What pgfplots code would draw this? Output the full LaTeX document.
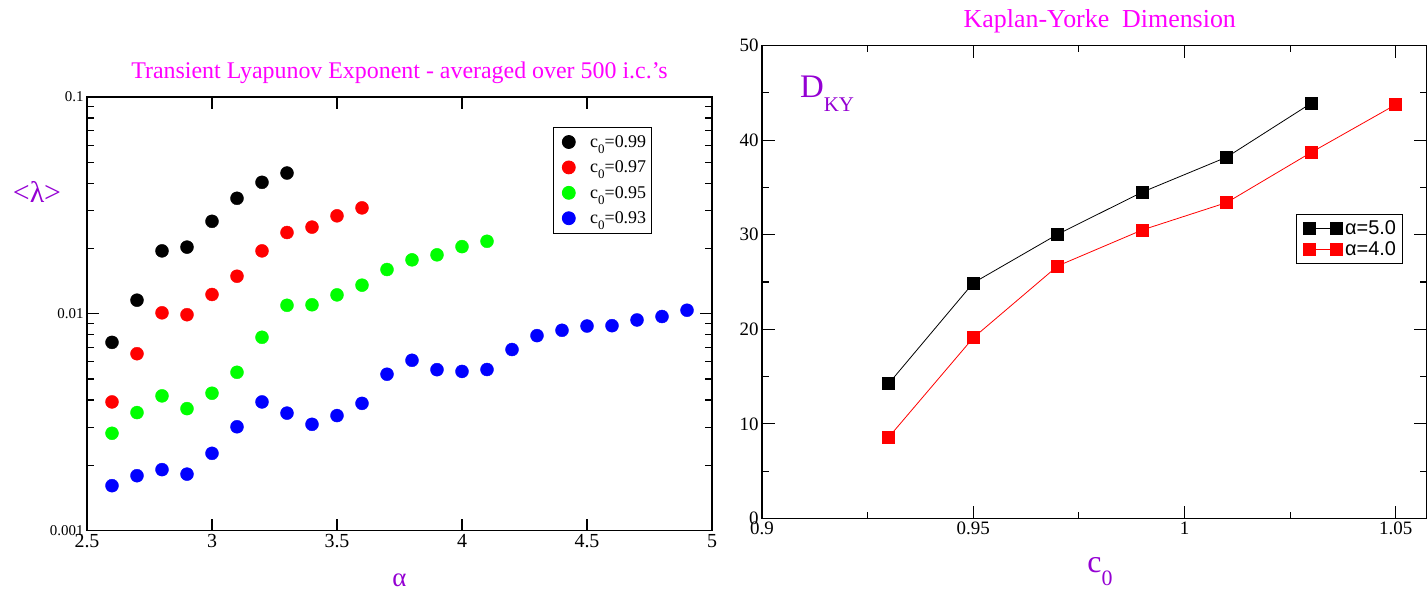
\documentclass[border=0pt]{standalone}
\usepackage{pgfplots}
\pgfplotsset{compat=1.18}
\usepackage{fontspec}
\setmainfont{Liberation Serif}
\newfontfamily\legendsans{Liberation Sans}
\definecolor{titlemag}{RGB}{255,0,255}
\definecolor{labviolet}{RGB}{148,0,211}
\definecolor{grn}{RGB}{0,255,0}
\definecolor{blu}{RGB}{0,0,255}
\definecolor{rd}{RGB}{255,0,0}
\newcommand{\fs}[1]{\fontsize{#1}{#1}\selectfont}
\newcommand{\lsub}[1]{\raisebox{-6bp}{\fs{13}#1}}

% transient Lyapunov exponent, one table per c_0
\pgfplotstableread{
a lam
2.6 0.00738
2.7 0.01155
2.8 0.0195
2.9 0.0203
3.0 0.0267
3.1 0.0341
3.2 0.0404
3.3 0.0446
}\cnineninetynine
\pgfplotstableread{
a lam
2.6 0.00392
2.7 0.00654
2.8 0.0101
2.9 0.0099
3.0 0.01227
3.1 0.0149
3.2 0.0195
3.3 0.0237
3.4 0.0251
3.5 0.0283
3.6 0.0308
}\cnineninetyseven
\pgfplotstableread{
a lam
2.6 0.00281
2.7 0.00350
2.8 0.00418
2.9 0.00365
3.0 0.00430
3.1 0.00537
3.2 0.00779
3.3 0.01094
3.4 0.0110
3.5 0.01222
3.6 0.01355
3.7 0.0160
3.8 0.01773
3.9 0.0187
4.0 0.0204
4.1 0.0216
}\cninetyfive
\pgfplotstableread{
a lam
2.6 0.00161
2.7 0.00179
2.8 0.00191
2.9 0.00182
3.0 0.00227
3.1 0.00301
3.2 0.00392
3.3 0.00348
3.4 0.00309
3.5 0.00339
3.6 0.00386
3.7 0.00526
3.8 0.00610
3.9 0.00552
4.0 0.00542
4.1 0.00553
4.2 0.00684
4.3 0.00793
4.4 0.00839
4.5 0.00878
4.6 0.00881
4.7 0.00936
4.8 0.00971
4.9 0.01038
}\cninetythree

% Kaplan-Yorke dimension versus c_0
\pgfplotstableread{
c d
0.93 14.27
0.95 24.9
0.97 30.05
0.99 34.5
1.01 38.2
1.03 43.9
}\alphafive
\pgfplotstableread{
c d
0.93 8.6
0.95 19.1
0.97 26.7
0.99 30.5
1.01 33.4
1.03 38.7
1.05 43.75
}\alphafour

\begin{document}
\begin{tikzpicture}
\path[use as bounding box] (0,0) rectangle (1427bp,592bp);

\begin{axis}[
  at={(87bp,61.5bp)}, anchor=south west, scale only axis,
  width=625bp, height=433.5bp,
  xmin=2.5, xmax=5, ymode=log, ymin=0.001, ymax=0.1,
  xtick={2.5,3,3.5,4,4.5,5}, xticklabels={2.5,3,3.5,4,4.5,5},
  ytick={0.001,0.01,0.1}, yticklabels={0.001,0.01,0.1},
  minor ytick={0.002,0.003,0.004,0.005,0.006,0.007,0.008,0.009,0.02,0.03,0.04,0.05,0.06,0.07,0.08,0.09},
  axis line style={line width=1.6bp},
  tick style={line width=1.1bp, black},
  major tick length=12bp, minor tick length=7bp,
  x tick label style={font=\fs{20}},
  y tick label style={font=\fs{15}},
  /pgf/number format/assume math mode=true,
  clip=false,
  legend style={at={(0.7456,0.931)}, anchor=north west, draw=black,
    line width=0.8bp, font=\fs{18}, row sep=8bp, inner xsep=3bp, inner ysep=6bp},
  legend cell align=left,
  legend image code/.code={\path (0bp,0bp) (31bp,0bp);
    \draw[#1] plot coordinates {(12bp,0bp)};},
]
\addplot[only marks, mark=*, mark size=6.5bp, black] table[x=a,y=lam] {\cnineninetynine};
\addlegendentry{c\lsub{0}=0.99}
\addplot[only marks, mark=*, mark size=6.5bp, rd] table[x=a,y=lam] {\cnineninetyseven};
\addlegendentry{c\lsub{0}=0.97}
\addplot[only marks, mark=*, mark size=6.5bp, grn] table[x=a,y=lam] {\cninetyfive};
\addlegendentry{c\lsub{0}=0.95}
\addplot[only marks, mark=*, mark size=6.5bp, blu] table[x=a,y=lam] {\cninetythree};
\addlegendentry{c\lsub{0}=0.93}

\node[font=\fs{24}, text=titlemag, anchor=base] at (axis description cs:0.5,1.0438)
  {Transient Lyapunov Exponent - averaged over 500 i.c.'s};
\node[font=\fs{30}, text=labviolet] at (axis description cs:-0.08,0.781) {<λ>};
\node[font=\fs{27}, text=labviolet] at (axis description cs:0.5,-0.114) {α};
\end{axis}

\begin{axis}[
  at={(762bp,73.5bp)}, anchor=south west, scale only axis,
  width=665bp, height=473bp,
  xmin=0.9, xmax=1.0574, ymin=0, ymax=50,
  xtick={0.9,0.95,1,1.05}, xticklabels={0.9,0.95,1,1.05},
  minor xtick={0.925,0.975,1.025},
  ytick={0,10,20,30,40,50}, minor ytick={5,15,25,35,45},
  axis line style={line width=1.6bp},
  tick style={line width=1.1bp, black},
  major tick length=13bp, minor tick length=7bp,
  tick label style={font=\fs{19}},
  /pgf/number format/assume math mode=true,
  clip=false,
  legend style={at={(0.803,0.644)}, anchor=north west, draw=black,
    line width=0.8bp, font=\legendsans\fs{20}, row sep=2bp, inner xsep=4bp, inner ysep=4bp},
  legend cell align=left,
  legend image code/.code={\path (0bp,0bp) (42bp,0bp);
    \draw[#1] plot coordinates {(9bp,0bp) (36bp,0bp)};},
]
\addplot[black, line width=0.8bp, mark=square*, mark size=6bp] table[x=c,y=d] {\alphafive};
\addlegendentry{α=5.0}
\addplot[rd, line width=0.8bp, mark=square*, mark size=6bp] table[x=c,y=d] {\alphafour};
\addlegendentry{α=4.0}

\node[font=\fs{26}, text=titlemag, anchor=base] at (axis description cs:0.508,1.039)
  {Kaplan-Yorke\ \ Dimension};
\node[anchor=base west, text=labviolet, inner sep=0pt] at (axis description cs:0.057,0.891)
  {\fs{33}D\raisebox{-14bp}{\fs{21}KY}};
\node[anchor=base west, text=labviolet, inner sep=0pt] at (axis description cs:0.489,-0.1152)
  {\fs{32}c\raisebox{-13bp}{\fs{22}0}};
\end{axis}
\end{tikzpicture}
\end{document}
